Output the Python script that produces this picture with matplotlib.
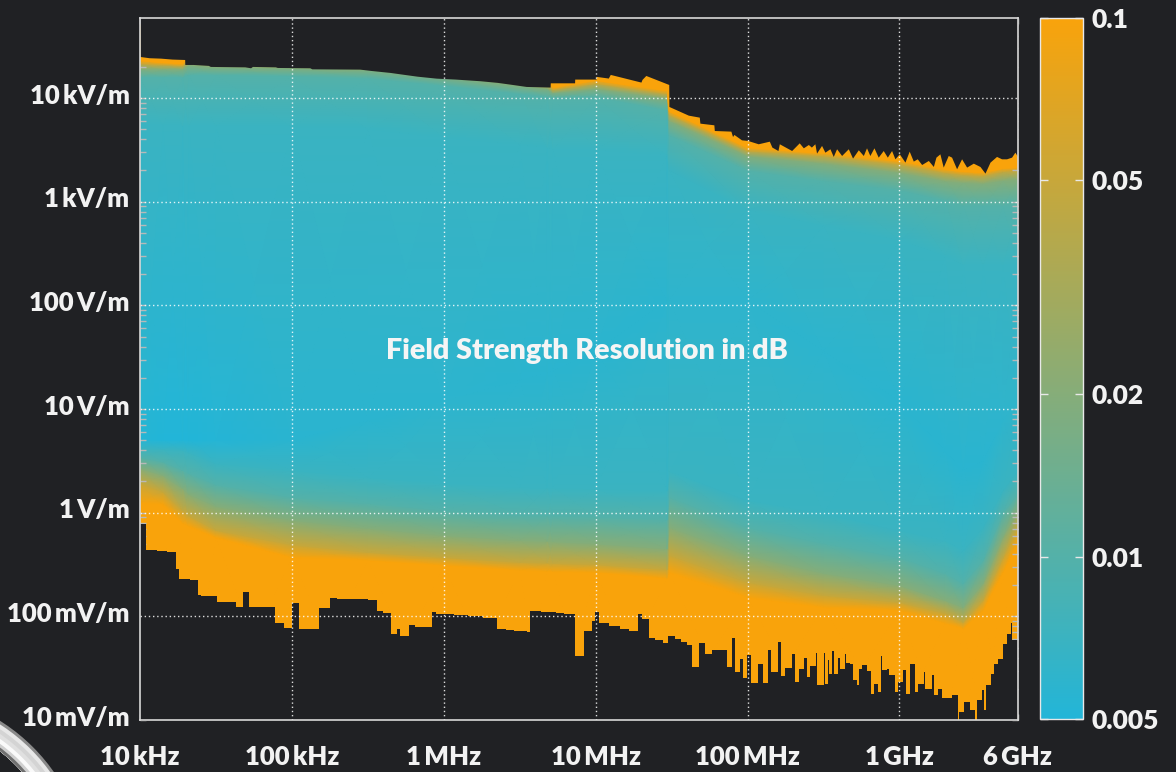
import numpy as np
import matplotlib
matplotlib.use("Agg")
import matplotlib.pyplot as plt
from matplotlib.colors import LinearSegmentedColormap, LogNorm
from matplotlib.patches import Wedge
from matplotlib.transforms import IdentityTransform, ScaledTranslation

plt.rcParams['font.family'] = ['Lato', 'DejaVu Sans']
plt.rcParams['font.weight'] = 'heavy'
WEIGHT = 'heavy'

BG = '#202124'
ORANGE = '#F9A30B'
BLUE = '#22B5D8'

# ---- resolution contours: log10(f/Hz) columns, log10(E/(V/m)) where the resolution reaches a level
col_lf = [4.0, 4.15, 4.28, 4.32, 4.5, 5.0, 5.5, 6.0, 6.5, 6.68, 6.72, 7.0, 7.47, 7.485, 8.0, 8.5, 9.0, 9.3, 9.42, 9.55, 9.68, 9.78]
low_01 = [.090, .08, -.10, -.13, -.24, -.431, -.46, -.508, -.556, -.565, -.57, -.576, -.634, -.576, -.817, -.914, -.942, -1.067, -1.116, -.942, -.576, -.296]
low_005 = [.283, .20, .02, -.03, -.17, -.31, -.383, -.431, -.479, -.485, -.49, -.50, -.55, -.412, -.672, -.798, -.865, -.971, -1.058, -.846, -.441, -.142]
low_002 = [.427, .36, .234, .18, .06, -.074, -.151, -.219, -.267, -.275, -.28, -.30, -.35, -.142, -.412, -.585, -.701, -.846, -.914, -.682, -.238, .022]
low_001 = [.533, .49, .41, .38, .27, .148, .09, .022, -.026, -.03, -.03, -.04, -.07, .15, -.142, -.296, -.431, -.585, -.682, -.46, -.007, .186]
low_0007 = [.62, .61, .60, .58, .475, .408, .34, .283, .244, .24, .24, .23, .215, .40, .119, -.007, -.171, -.268, -.364, -.142, .215, .408]
mid_pos = [.70, .70, .70, .70, .70, .70, .89, 1.08, 1.28, 1.35, 1.37, 1.56, 2.05, 2.05, 2.05, 1.56, 1.08, .60, .41, .50, .89, 1.08]
mid_res = [.0053, .005, .005, .005, .0052, .0056, .0057, .0058, .0057, .0057, .0057, .0057, .0057, .0059, .0059, .0058, .0057, .0056, .0056, .0056, .0059, .0062]
up_0007 = [3.74, 3.74, 3.73, 3.73, 3.73, 3.72, 3.70, 3.62, 3.55, 3.52, 3.50, 3.50, 3.45, 3.30, 2.92, 2.77, 2.63, 2.48, 2.39, 2.39, 2.39, 2.39]
up_001 = [4.20, 4.20, 4.20, 4.22, 4.22, 4.21, 4.19, 4.12, 4.04, 4.01, 4.00, 4.01, 3.88, 3.64, 3.30, 3.20, 3.11, 3.01, 2.96, 2.96, 2.96, 2.96]
up_002 = [4.28, 4.28, 4.28, 4.32, 4.30, 4.29, 4.275, 4.21, 4.12, 4.09, 4.05, 4.09, 3.995, 3.78, 3.44, 3.37, 3.28, 3.20, 3.185, 3.175, 3.205, 3.215]
up_005 = [4.33, 4.32, 4.31, 4.36, 4.34, 4.33, 4.31, 4.25, 4.16, 4.13, 4.08, 4.14, 4.04, 3.84, 3.49, 3.44, 3.36, 3.28, 3.26, 3.25, 3.29, 3.30]
up_01 = [4.36, 4.34, 4.33, 4.39, 4.37, 4.36, 4.34, 4.275, 4.19, 4.16, 4.10, 4.17, 4.07, 3.87, 3.52, 3.465, 3.39, 3.31, 3.29, 3.28, 3.32, 3.33]

# ---- measurable range: upper limit (polyline) and lower limit (steps)
top_lf = [4.0, 4.06, 4.135, 4.211, 4.294, 4.295, 4.35, 4.45, 4.463, 4.69, 4.728, 4.74, 4.891, 4.904, 5.118, 5.131, 5.446, 5.521, 5.647, 5.71, 5.824, 5.95, 6.076, 6.239, 6.353, 6.466, 6.542, 6.70, 6.701, 6.861, 6.862, 7.002, 7.003, 7.083, 7.096, 7.298, 7.305, 7.33, 7.481,
          7.482, 7.555, 7.61, 7.682, 7.686, 7.778, 7.781, 7.89, 7.901, 7.91, 7.96, 8.0, 8.07, 8.143, 8.16, 8.2, 8.209, 8.29, 8.34, 8.367, 8.4, 8.42, 8.443, 8.454, 8.487, 8.509, 8.542, 8.564, 8.586, 8.619, 8.663, 8.691, 8.729, 8.762, 8.783, 8.805, 8.832, 8.86, 8.893, 8.92, 8.948, 8.97, 8.999, 9.036, 9.064, 9.091, 9.117, 9.146, 9.19, 9.223, 9.24, 9.266, 9.288, 9.321, 9.343, 9.376, 9.409, 9.442, 9.486, 9.53, 9.563, 9.596, 9.639, 9.672, 9.705, 9.738, 9.76, 9.78]
top_L = [4.40, 4.388, 4.384, 4.375, 4.371, 4.323, 4.323, 4.314, 4.304, 4.30, 4.291, 4.304, 4.30, 4.294, 4.291, 4.281, 4.278, 4.265, 4.246, 4.233, 4.21, 4.191, 4.182, 4.166, 4.15, 4.127, 4.111, 4.105, 4.146, 4.146, 4.182, 4.182, 4.208, 4.192, 4.227, 4.153, 4.179, 4.217, 4.13,
         3.918, 3.87, 3.834, 3.815, 3.757, 3.741, 3.686, 3.68, 3.628, 3.648, 3.596, 3.59, 3.558, 3.583, 3.526, 3.493, 3.558, 3.493, 3.567, 3.519, 3.551, 3.526, 3.558, 3.468, 3.542, 3.477, 3.51, 3.436, 3.51, 3.445, 3.51, 3.42, 3.5, 3.445, 3.519, 3.445, 3.519, 3.429, 3.493, 3.429, 3.493, 3.413, 3.461, 3.381, 3.487, 3.391, 3.413, 3.358, 3.397, 3.339, 3.429, 3.461, 3.333, 3.445, 3.429, 3.317, 3.413, 3.333, 3.371, 3.339, 3.275, 3.381, 3.436, 3.413, 3.413, 3.429, 3.477, 3.429]

bot_lf = [4.0, 4.04, 4.11, 4.18, 4.24, 4.26, 4.33, 4.38, 4.40, 4.51, 4.63, 4.68, 4.72, 4.89, 4.95, 5.00, 5.05, 5.18, 5.25, 5.30, 5.50, 5.56, 5.60, 5.65, 5.69, 5.71, 5.77, 5.81, 5.86, 5.92, 5.95, 6.07, 6.16, 6.26, 6.35, 6.41, 6.46, 6.55, 6.57, 6.64, 6.74, 6.79,
          6.864, 6.925, 6.974, 6.996, 7.024, 7.09, 7.16, 7.22, 7.281, 7.303, 7.351, 7.39, 7.44, 7.478, 7.52, 7.56, 7.60, 7.632, 7.682, 7.72, 7.764, 7.862, 7.9, 7.917, 7.95, 7.968, 7.994, 8.023, 8.066, 8.099, 8.137, 8.154, 8.203, 8.218, 8.246, 8.295, 8.312, 8.339, 8.374, 8.389, 8.411, 8.448, 8.457, 8.503, 8.512, 8.527, 8.536, 8.554, 8.567, 8.598, 8.606, 8.641, 8.65, 8.674, 8.692, 8.718, 8.736, 8.751, 8.784, 8.813, 8.832, 8.861, 8.876, 8.885, 8.916, 8.933, 8.971, 8.992, 9.021, 9.043, 9.069, 9.102, 9.124, 9.161, 9.17, 9.212, 9.227, 9.256, 9.282, 9.344, 9.383, 9.392, 9.427, 9.464, 9.497, 9.508, 9.541, 9.556, 9.57, 9.6, 9.622, 9.651, 9.684, 9.71, 9.732, 9.741, 9.78]
bot_L = [-.106, -.364, -.373, -.383, -.540, -.637, -.647, -.797, -.804, -.858, -.913, -.769, -.913, -1.065, -1.116, -.868, -1.125, -.923, -.823, -.833, -.846, -.952, -.964, -1.171, -1.125, -1.186, -1.087, -1.100, -1.106, -.961, -.981, -.987, -1.0, -1.013, -1.122, -1.135, -1.145, -1.154, -.952, -.961, -.971, -.981,
         -1.383, -1.141, -1.045, -.958, -1.061, -1.09, -1.12, -1.145, -.974, -1.03, -1.209, -1.23, -1.26, -1.193, -1.22, -1.25, -1.28, -1.489, -1.257, -1.367, -1.322, -1.489, -1.206, -1.537, -1.411, -1.591, -1.37, -1.643, -1.456, -1.643, -1.328, -1.537, -1.248, -1.575, -1.498, -1.36, -1.633, -1.505, -1.398, -1.585, -1.482, -1.35, -1.665, -1.354, -1.656, -1.424, -1.559, -1.334, -1.553, -1.402, -1.511, -1.367, -1.45, -1.456, -1.617, -1.665, -1.505, -1.473, -1.527, -1.745, -1.65, -1.73, -1.386, -1.521, -1.505, -1.569, -1.73, -1.633, -1.52, -1.746, -1.463, -1.73, -1.65, -1.537, -1.698, -1.57, -1.762, -1.698, -1.784, -1.762, -2.0, -1.923, -1.826, -1.906, -2.0, -1.81, -1.714, -1.906, -1.665, -1.553, -1.456, -1.408, -1.264, -1.167, -1.064, -1.232, -1.232]

x_ticks = [1e4, 1e5, 1e6, 1e7, 1e8, 1e9, 6e9]
x_labels = ['10\u2009kHz', '100\u2009kHz', '1\u2009MHz', '10\u2009MHz', '100\u2009MHz', '1\u2009GHz', '6\u2009GHz']
y_ticks = [1e-2, 1e-1, 1, 1e1, 1e2, 1e3, 1e4]
y_labels = ['10\u2009mV/m', '100\u2009mV/m', '1\u2009V/m', '10\u2009V/m', '100\u2009V/m', '1\u2009kV/m', '10\u2009kV/m']
cb_ticks = [0.1, 0.05, 0.02, 0.01, 0.005]
cb_labels = ['0.1', '0.05', '0.02', '0.01', '0.005']
grid_x = [1e5, 1e6, 1e7, 1e8, 1e9]
grid_y = [1e-1, 1, 1e1, 1e2, 1e3, 1e4]
ring_radii = [188, 185, 181, 177, 173, 169, 166]
ring_greys = ['#8a8a8a', '#e8e8e8', '#d4d4d4', '#e0e0e0', '#fafafa', '#d0d0d0', '#707070']

W, H = 1176, 772
fig = plt.figure(figsize=(W / 100, H / 100), dpi=100, facecolor=BG)
ax = fig.add_axes([140 / W, (H - 720) / H, (1018 - 140) / W, (720 - 17.5) / H], facecolor=BG)
cax = fig.add_axes([1040 / W, (H - 719) / H, 43 / W, (719 - 17.5) / H])

cmap = LinearSegmentedColormap.from_list('res', [BLUE, ORANGE], N=512)
norm = LogNorm(vmin=0.005, vmax=0.1)

n = len(col_lf)
rows_L = np.array([[-2.1] * n, low_01, low_005, low_002, low_001, low_0007, mid_pos,
                   up_0007, up_001, up_002, up_005, up_01, [5.0] * n])
rows_res = np.array([[.1] * n, [.1] * n, [.05] * n, [.02] * n, [.01] * n, [.007] * n, mid_res,
                     [.007] * n, [.01] * n, [.02] * n, [.05] * n, [.1] * n, [.1] * n])
X = np.tile(10.0 ** np.array(col_lf), (rows_L.shape[0], 1))
Y = 10.0 ** rows_L

ax.set_xscale('log')
ax.set_yscale('log')
mesh = ax.pcolormesh(X, Y, rows_res, shading='gouraud', cmap=cmap, norm=norm, zorder=1)
ax.set_xlim(1e4, 6.03e9)
ax.set_ylim(1e-2, 10 ** 4.776)

ymin, ymax = ax.get_ylim()
ax.fill_between(10.0 ** np.array(top_lf), 10.0 ** np.array(top_L), ymax * 2, color=BG, lw=0, zorder=2)
ax.fill_between(10.0 ** np.array(bot_lf), ymin / 2, 10.0 ** np.array(bot_L), step='post', color=BG, lw=0, zorder=2)

for v in grid_x:
    ax.axvline(v, color='white', lw=1.0, ls=(0, (1, 2)), alpha=0.85, zorder=3)
for v in grid_y:
    ax.axhline(v, color='white', lw=1.0, ls=(0, (1, 2)), alpha=0.85, zorder=3)

ax.set_xticks(x_ticks, x_labels)
ax.set_yticks(y_ticks, y_labels)
ax.xaxis.set_minor_locator(matplotlib.ticker.LogLocator(base=10, subs=np.arange(2, 10), numticks=12))
ax.yaxis.set_minor_locator(matplotlib.ticker.LogLocator(base=10, subs=np.arange(2, 10), numticks=12))
ax.xaxis.set_minor_formatter(matplotlib.ticker.NullFormatter())
ax.yaxis.set_minor_formatter(matplotlib.ticker.NullFormatter())
for which in ('major', 'minor'):
    ax.tick_params(axis='both', which=which, direction='in', top=True, right=True, length=4,
                   width=1, color='#b8b8b8')
ax.tick_params(axis='x', which='major', labelsize=18.5, labelcolor='#f2f2f2', pad=18)
ax.tick_params(axis='y', which='major', labelsize=18.5, labelcolor='#f2f2f2', pad=7.5)
for lab in ax.get_xticklabels() + ax.get_yticklabels():
    lab.set_fontweight(WEIGHT)
up_shift = ScaledTranslation(0, 3 / 72, fig.dpi_scale_trans)
for tick in ax.yaxis.get_major_ticks():
    tick.label1.set_transform(tick.label1.get_transform() + up_shift)
for s in ax.spines.values():
    s.set_color('#d8d8d8')
    s.set_linewidth(1.2)
    s.set_zorder(6)

ax.text(0.509, 0.525, 'Field Strength Resolution in dB', transform=ax.transAxes, ha='center', va='center',
        color='#f5f5f5', fontsize=20.7, fontweight=WEIGHT, zorder=7)

cb = fig.colorbar(mesh, cax=cax, ticks=cb_ticks)
cb.ax.minorticks_off()
cb.set_ticks(cb_ticks, labels=cb_labels)
cb.ax.tick_params(which='major', direction='in', left=True, right=True, length=6, width=1, color='#e8e8e8',
                  labelsize=19, labelcolor='#f2f2f2', pad=6)
cb.outline.set_edgecolor('#e8e8e8')
cb.outline.set_linewidth(1.0)
for lab in cb.ax.get_yticklabels():
    lab.set_fontweight(WEIGHT)

# ring fragment in the lower left corner of the picture
for r, g in zip(ring_radii, ring_greys):
    fig.add_artist(Wedge((-100, -108), r, 0, 90, width=r - 163, facecolor=g, edgecolor='none',
                         transform=IdentityTransform()))

fig.savefig('out.png', dpi=100, facecolor=BG)
